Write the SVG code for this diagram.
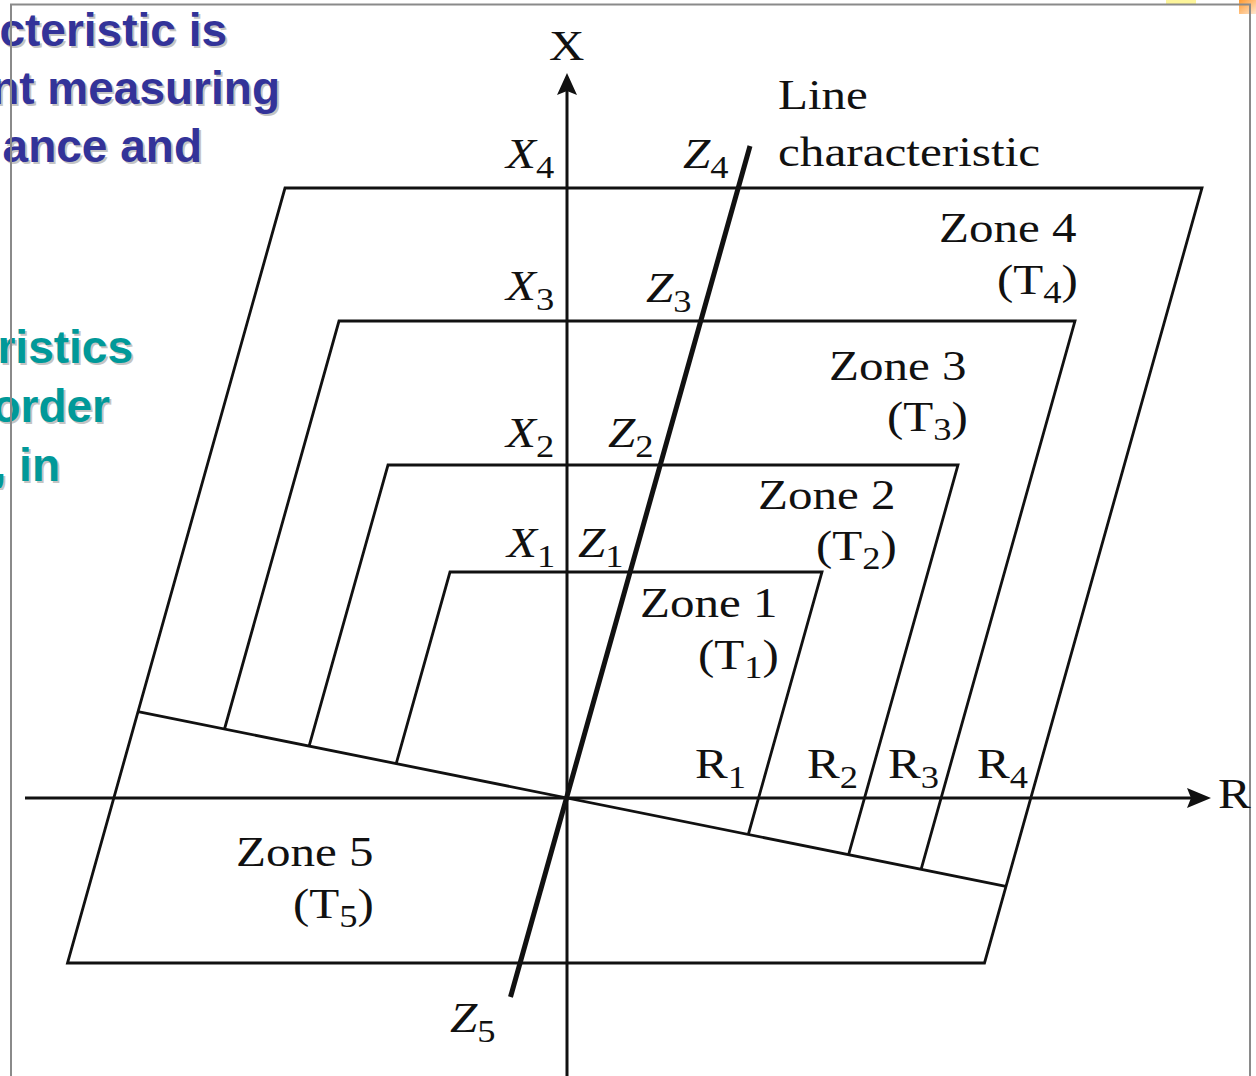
<svg xmlns="http://www.w3.org/2000/svg" xmlns:xlink="http://www.w3.org/1999/xlink" width="1256" height="1076" viewBox="0 0 1256 1076">
<defs>
<style>
.ln{fill:none;stroke:#111;stroke-width:2.8;stroke-linecap:butt}
.ax{fill:none;stroke:#111;stroke-width:3}
.lbl{font-family:"Liberation Serif","Times New Roman",serif;font-size:43px;fill:#111}
.sub{font-size:32px;font-style:normal}
.it{font-style:italic}
.slide{font-family:"Liberation Sans",Arial,sans-serif;font-weight:bold;font-size:46px;text-anchor:end}
</style>
<linearGradient id="og" x1="0" y1="0" x2="1" y2="1">
<stop offset="0" stop-color="#ff9a2e"/>
<stop offset="1" stop-color="#ffe6d0"/>
</linearGradient>
<text id="b1" class="slide" x="227" y="46">cteristic is</text>
<text id="b2" class="slide" x="280" y="104">nt measuring</text>
<text id="b3" class="slide" x="202" y="162">ance and</text>
<text id="g1" class="slide" x="133" y="363">ristics</text>
<text id="g2" class="slide" x="110" y="422">order</text>
<text id="g3" class="slide" x="60" y="481">, in</text>
</defs>
<rect x="0" y="0" width="1256" height="1076" fill="#fff"/>
<g id="slide-text">
<use xlink:href="#b1" fill="#c4c4c4" x="2" y="2"/>
<use xlink:href="#b2" fill="#c4c4c4" x="2" y="2"/>
<use xlink:href="#b3" fill="#c4c4c4" x="2" y="2"/>
<use xlink:href="#g1" fill="#c4c4c4" x="2" y="2"/>
<use xlink:href="#g2" fill="#c4c4c4" x="2" y="2"/>
<use xlink:href="#g3" fill="#c4c4c4" x="2" y="2"/>
<use xlink:href="#b1" fill="#333399"/>
<use xlink:href="#b2" fill="#333399"/>
<use xlink:href="#b3" fill="#333399"/>
<use xlink:href="#g1" fill="#009999"/>
<use xlink:href="#g2" fill="#009999"/>
<use xlink:href="#g3" fill="#009999"/>
</g>
<g id="frame">
<rect x="1166" y="0" width="30" height="4" fill="#fdf59a"/>
<rect x="1239" y="0" width="17" height="14" fill="url(#og)"/>
<path d="M11,1076 V4.5 H1250 V1076" fill="none" stroke="#8a8a8a" stroke-width="2"/>
</g>
<g id="connectors">
<g id="zone4">
<path class="ln" d="M285,188 H1202 L984.5,963 H67.5 Z"/>
</g>
<g id="zone5-boundary">
<path class="ln" d="M138,711.6 L1005.9,886.4"/>
</g>
<g id="zone3">
<path class="ln" d="M224.5,729 L339,321 H1075 L921.1,869.3"/>
</g>
<g id="zone2">
<path class="ln" d="M309.1,746.1 L388,465 H958 L848.6,854.7"/>
</g>
<g id="zone1">
<path class="ln" d="M396.2,763.6 L450,572 H822 L748.3,834.5"/>
</g>
<g id="axes">
<path class="ax" d="M567,1076 V88"/>
<path d="M567,73 L577,95 L567,91 L557,95 Z" fill="#111"/>
<path class="ax" d="M25,798 H1196"/>
<path d="M1211,798 L1187,788 L1191,798 L1187,808 Z" fill="#111"/>
</g>
<g id="line-characteristic">
<path d="M750,146 L510.5,997" fill="none" stroke="#111" stroke-width="5"/>
</g>
</g>
<g id="labels" class="lbl">
<text transform="translate(549,60) scale(1.14,1)">X</text>
<text transform="translate(1218,808) scale(1.14,1)">R</text>
<text transform="translate(506,168) scale(1.14,1)"><tspan class="it">X</tspan><tspan class="sub" dy="10">4</tspan></text>
<text transform="translate(683,168) scale(1.14,1)"><tspan class="it">Z</tspan><tspan class="sub" dy="10">4</tspan></text>
<text transform="translate(778,109) scale(1.14,1)">Line</text>
<text transform="translate(778,166) scale(1.14,1)" textLength="230" lengthAdjust="spacingAndGlyphs">characteristic</text>
<text transform="translate(939,242) scale(1.14,1)">Zone 4</text>
<text transform="translate(997,294) scale(1.14,1)">(T<tspan class="sub" dy="9">4</tspan><tspan dy="-9">)</tspan></text>
<text transform="translate(506,300) scale(1.14,1)"><tspan class="it">X</tspan><tspan class="sub" dy="10">3</tspan></text>
<text transform="translate(646,302) scale(1.14,1)"><tspan class="it">Z</tspan><tspan class="sub" dy="10">3</tspan></text>
<text transform="translate(829,380) scale(1.14,1)">Zone 3</text>
<text transform="translate(887,431) scale(1.14,1)">(T<tspan class="sub" dy="9">3</tspan><tspan dy="-9">)</tspan></text>
<text transform="translate(506,447) scale(1.14,1)"><tspan class="it">X</tspan><tspan class="sub" dy="10">2</tspan></text>
<text transform="translate(608,447) scale(1.14,1)"><tspan class="it">Z</tspan><tspan class="sub" dy="10">2</tspan></text>
<text transform="translate(758,509) scale(1.14,1)">Zone 2</text>
<text transform="translate(816,560) scale(1.14,1)">(T<tspan class="sub" dy="9">2</tspan><tspan dy="-9">)</tspan></text>
<text transform="translate(507,557) scale(1.14,1)"><tspan class="it">X</tspan><tspan class="sub" dy="10">1</tspan></text>
<text transform="translate(578,557) scale(1.14,1)"><tspan class="it">Z</tspan><tspan class="sub" dy="10">1</tspan></text>
<text transform="translate(640,617) scale(1.14,1)">Zone 1</text>
<text transform="translate(698,669) scale(1.14,1)">(T<tspan class="sub" dy="9">1</tspan><tspan dy="-9">)</tspan></text>
<text transform="translate(695,778) scale(1.14,1)">R<tspan class="sub" dy="10">1</tspan></text>
<text transform="translate(807,778) scale(1.14,1)">R<tspan class="sub" dy="10">2</tspan></text>
<text transform="translate(888,778) scale(1.14,1)">R<tspan class="sub" dy="10">3</tspan></text>
<text transform="translate(977,778) scale(1.14,1)">R<tspan class="sub" dy="10">4</tspan></text>
<text transform="translate(236,866) scale(1.14,1)">Zone 5</text>
<text transform="translate(293,918) scale(1.14,1)">(T<tspan class="sub" dy="9">5</tspan><tspan dy="-9">)</tspan></text>
<text transform="translate(450,1032) scale(1.14,1)"><tspan class="it">Z</tspan><tspan class="sub" dy="10">5</tspan></text>
</g>
</svg>
